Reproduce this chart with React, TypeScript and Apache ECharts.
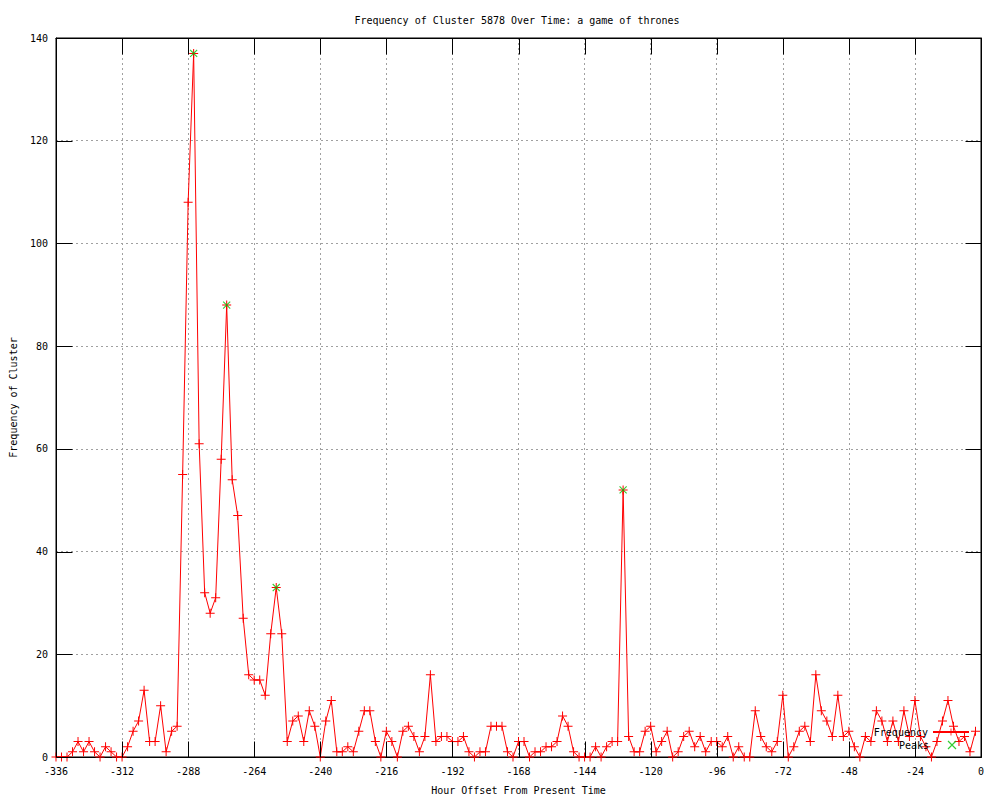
import React, { useEffect, useRef } from "react";
import * as echarts from "echarts";

const TITLE = "Frequency of Cluster 5878 Over Time: a game of thrones";
const X_NAME = "Hour Offset From Present Time";
const Y_NAME = "Frequency of Cluster";

const HOUR_START = -336;
const HOUR_STEP = 2;

const frequency = [
  0, 0, 0, 1, 3, 1, 3, 1, 0, 2, 1, 0, 0, 2, 5, 7, 13, 3, 3, 10,
  1, 5, 6, 55, 108, 137, 61, 32, 28, 31, 58, 88, 54, 47, 27, 16, 15, 15, 12, 24,
  33, 24, 3, 7, 8, 3, 9, 6, 0, 7, 11, 1, 1, 2, 1, 5, 9, 9, 3, 0,
  5, 3, 0, 5, 6, 4, 1, 4, 16, 3, 4, 4, 3, 3, 4, 1, 0, 1, 1, 6,
  6, 6, 1, 0, 3, 3, 0, 1, 1, 2, 2, 3, 8, 6, 1, 0, 0, 0, 2, 0,
  2, 3, 3, 52, 4, 1, 1, 5, 6, 1, 3, 5, 0, 1, 4, 5, 2, 4, 1, 3,
  3, 2, 4, 0, 2, 0, 0, 9, 4, 2, 1, 3, 12, 0, 2, 5, 6, 3, 16, 9,
  7, 4, 12, 4, 5, 2, 0, 4, 3, 9, 7, 3, 7, 3, 9, 4, 11, 4, 2, 0,
  3, 7, 11, 6, 3, 4, 1, 5,
];

const peakHours = [-286, -274, -256, -130];
const peakValues = [137, 88, 33, 52];

const xMin = -336;
const xMax = 0;
const xInterval = 24;
const yMin = 0;
const yMax = 140;
const yInterval = 20;

const FONT = "DejaVu Sans Mono";
const PLUS = "path://M4,0h1v4h4v1h-4v4h-1v-4h-4v-1h4z";
// legend icon: an "x" centred in a 36x9 box (two zero-area anchors fix the box)
const PEAK_ICON =
  "path://M0,4.5h0.01v0.01h-0.01z M35.99,4.5h0.01v0.01h-0.01z " +
  "M14.42,0.08L22.42,8.08L21.58,8.92L13.58,0.92z " +
  "M22.42,0.92L14.42,8.92L13.58,8.08L21.58,0.08z";
const TICK_LEN = 16;

const mkGrid = () => ({ show: true, lineStyle: { color: "#a0a0a0", type: [2, 3] as any, width: 1 } });
const mkLine = () => ({ show: true, onZero: false, lineStyle: { color: "#000", width: 1 } });

export default function App() {
  const ref = useRef<HTMLDivElement>(null);
  useEffect(() => {
    if (!ref.current) return;
    const chart = echarts.init(ref.current, undefined, { renderer: "svg" });
    const freqData = frequency.map((v, i) => [HOUR_START + i * HOUR_STEP, v]);
    const peakData = peakHours.map((h, i) => [h, peakValues[i]]);
    const legendText = { fontFamily: FONT, fontSize: 10, color: "#000" };
    chart.setOption({
      animation: false,
      backgroundColor: "#fff",
      title: {
        text: TITLE,
        left: 512,
        top: 10,
        textAlign: "center",
        textStyle: { fontFamily: FONT, fontSize: 10, fontWeight: "normal", color: "#000" },
      },
      grid: { left: 56, right: 19, top: 38, bottom: 40, show: true, borderColor: "#000", borderWidth: 1, containLabel: false },
      legend: [
        {
          right: 30,
          top: 727,
          align: "right",
          itemWidth: 36,
          itemHeight: 9,
          padding: 0,
          textStyle: legendText,
          data: ["Frequency"],
        },
        {
          right: 30,
          top: 740,
          align: "right",
          itemWidth: 36,
          itemHeight: 9,
          padding: 0,
          textStyle: legendText,
          data: [{ name: "Peaks", icon: PEAK_ICON }],
        },
      ],
      xAxis: [
        {
          type: "value",
          min: xMin,
          max: xMax,
          interval: xInterval,
          position: "bottom",
          name: X_NAME,
          nameLocation: "middle",
          nameGap: 28,
          nameTextStyle: { fontFamily: FONT, fontSize: 10, color: "#000" },
          axisLine: mkLine(),
          axisTick: { show: false },
          axisLabel: { fontFamily: FONT, fontSize: 10, color: "#000", margin: 9 },
          splitLine: mkGrid(),
        },
        {
          type: "value",
          min: xMin,
          max: xMax,
          interval: xInterval,
          position: "top",
          axisLine: mkLine(),
          axisTick: { show: false },
          axisLabel: { show: false },
          splitLine: { show: false },
        },
      ],
      yAxis: [
        {
          type: "value",
          min: yMin,
          max: yMax,
          interval: yInterval,
          position: "left",
          name: Y_NAME,
          nameLocation: "middle",
          nameGap: 38,
          nameRotate: 90,
          nameTextStyle: { fontFamily: FONT, fontSize: 10, color: "#000" },
          axisLine: mkLine(),
          axisTick: { show: false },
          axisLabel: { fontFamily: FONT, fontSize: 10, color: "#000", margin: 8 },
          splitLine: mkGrid(),
        },
        {
          type: "value",
          min: yMin,
          max: yMax,
          interval: yInterval,
          position: "right",
          axisLine: mkLine(),
          axisTick: { show: false },
          axisLabel: { show: false },
          splitLine: { show: false },
        },
      ],
      series: [
        {
          name: "Frequency",
          type: "line",
          data: freqData,
          xAxisIndex: 0,
          yAxisIndex: 0,
          symbol: PLUS,
          symbolSize: 9,
          showSymbol: true,
          showAllSymbol: true,
          lineStyle: { color: "#ff0000", width: 1 },
          itemStyle: { color: "#ff0000" },
          z: 3,
        },
        {
          name: "Peaks",
          type: "scatter",
          data: peakData,
          xAxisIndex: 0,
          yAxisIndex: 0,
          symbol: PLUS,
          symbolSize: 10,
          symbolRotate: 45,
          itemStyle: { color: "#00c000" },
          z: 4,
        },
      ],
    });

    // mirrored inward tick marks, placed through the axes' own scales
    const px = (v: number) => chart.convertToPixel({ xAxisIndex: 0 }, v) as number;
    const py = (v: number) => chart.convertToPixel({ yAxisIndex: 0 }, v) as number;
    const snap = (p: number) => Math.round(p) + 0.5;
    const left = snap(px(xMin));
    const right = snap(px(xMax));
    const bottom = snap(py(yMin));
    const top = snap(py(yMax));
    const tickStyle = { stroke: "#000", lineWidth: 1 };
    const elements: any[] = [];
    for (let v = xMin; v <= xMax; v += xInterval) {
      const x = snap(px(v));
      elements.push({ type: "line", silent: true, z: 10, shape: { x1: x, y1: bottom, x2: x, y2: bottom - TICK_LEN }, style: tickStyle });
      elements.push({ type: "line", silent: true, z: 10, shape: { x1: x, y1: top, x2: x, y2: top + TICK_LEN }, style: tickStyle });
    }
    for (let v = yMin; v <= yMax; v += yInterval) {
      const y = snap(py(v));
      elements.push({ type: "line", silent: true, z: 10, shape: { x1: left, y1: y, x2: left + TICK_LEN, y2: y }, style: tickStyle });
      elements.push({ type: "line", silent: true, z: 10, shape: { x1: right, y1: y, x2: right - TICK_LEN, y2: y }, style: tickStyle });
    }
    chart.setOption({ graphic: elements });

    return () => chart.dispose();
  }, []);
  return <div ref={ref} style={{ position: "fixed", left: 0, top: 0, width: 1000, height: 800 }} />;
}
